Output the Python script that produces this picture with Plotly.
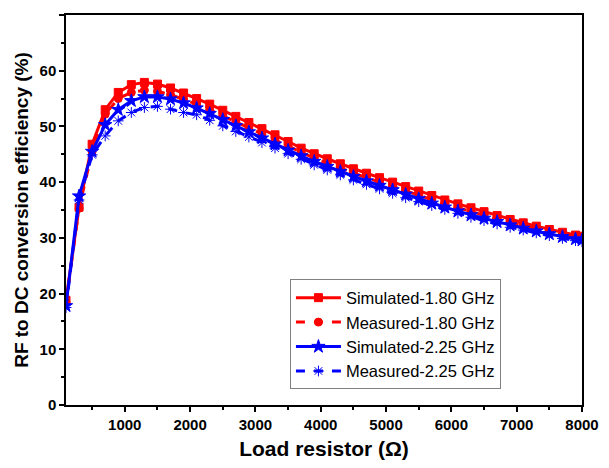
import plotly.graph_objects as go

load_ohm = [100, 300, 500, 700, 900, 1100, 1300, 1500, 1700, 1900, 2100, 2300, 2500, 2700,
            2900, 3100, 3300, 3500, 3700, 3900, 4100, 4300, 4500, 4700, 4900, 5100, 5300,
            5500, 5700, 5900, 6100, 6300, 6500, 6700, 6900, 7100, 7300, 7500, 7700, 7900, 8000]

sim_180 = [18.8, 35.5, 46.8, 53.0, 56.1, 57.5, 57.9, 57.6, 56.9, 56.0, 55.0, 54.0, 52.9, 51.8,
           50.7, 49.6, 48.5, 47.3, 46.1, 45.1, 44.2, 43.3, 42.4, 41.6, 40.8, 40.0, 39.2,
           38.4, 37.6, 36.8, 36.1, 35.4, 34.7, 34.0, 33.3, 32.7, 32.1, 31.5, 31.0, 30.5, 30.3]

meas_180 = [18.5, 35.3, 45.5, 52.2, 55.0, 56.1, 56.5, 56.3, 55.7, 54.9, 54.0, 53.0, 51.9, 50.8,
            49.7, 48.6, 47.5, 46.4, 45.3, 44.3, 43.4, 42.5, 41.6, 40.8, 40.0, 39.2, 38.4,
            37.6, 36.8, 36.1, 35.4, 34.7, 34.1, 33.4, 32.8, 32.2, 31.7, 31.1, 30.6, 30.2, 30.0]

sim_225 = [17.8, 37.5, 45.5, 50.3, 53.0, 54.6, 55.3, 55.3, 54.9, 54.2, 53.3, 52.3, 51.2, 50.1,
           49.0, 47.9, 46.8, 45.7, 44.7, 43.7, 42.8, 41.9, 41.0, 40.2, 39.4, 38.6, 37.8,
           37.0, 36.2, 35.5, 34.8, 34.1, 33.5, 32.9, 32.3, 31.7, 31.2, 30.7, 30.2, 29.8, 29.6]

meas_225 = [17.5, 36.8, 44.9, 48.3, 51.0, 52.5, 53.4, 53.6, 53.1, 52.5, 52.1, 51.1, 50.1, 49.1,
            48.1, 47.1, 46.1, 45.1, 44.1, 43.1, 42.2, 41.3, 40.4, 39.6, 38.8, 38.0, 37.2,
            36.5, 35.8, 35.1, 34.4, 33.7, 33.1, 32.5, 31.9, 31.4, 30.9, 30.4, 29.9, 29.5, 29.3]

x_ticks = [1000, 2000, 3000, 4000, 5000, 6000, 7000, 8000]
y_ticks = [0, 10, 20, 30, 40, 50, 60, 70]

RED = "#FF0000"
BLUE = "#0000FF"

series = [
    ("Simulated-1.80 GHz", sim_180, RED, "solid", "square", 8),
    ("Measured-1.80 GHz", meas_180, RED, "dash", "circle", 8),
    ("Simulated-2.25 GHz", sim_225, BLUE, "solid", "star", 10),
    ("Measured-2.25 GHz", meas_225, BLUE, "dash", "asterisk-open", 9),
]

FONT = "Liberation Sans, Arial"

fig = go.Figure()
for name, vals, color, dash, sym, size in series:
    fig.add_trace(go.Scatter(
        x=load_ohm, y=vals, name=name, mode="lines+markers",
        line=dict(color=color, width=3, dash=dash),
        marker=dict(symbol=sym, size=size, color=color,
                    line=dict(color=color, width=1)),
    ))

axis_common = dict(
    showline=True, linecolor="black", linewidth=1.5, mirror=True,
    ticks="outside", ticklen=5, tickwidth=1.5, tickcolor="black",
    showgrid=False, zeroline=False, automargin=False,
    tickfont=dict(family=FONT, size=15, color="black", weight="bold"),
)

fig.update_xaxes(
    range=[100, 8000], tickvals=x_ticks,
    minor=dict(ticks="outside", ticklen=3, tickwidth=1.5, tickcolor="black", dtick=500, tick0=0),
    title=dict(text="Load resistor (Ω)", font=dict(family=FONT, size=21,
               color="black", weight="bold"), standoff=12),
    **axis_common,
)
fig.update_yaxes(
    range=[0, 70], tickvals=y_ticks,
    minor=dict(ticks="outside", ticklen=3, tickwidth=1.5, tickcolor="black", dtick=5, tick0=0),
    title=dict(text="RF to DC conversion efficiency (%)", font=dict(family=FONT,
               size=19, color="black", weight="bold"), standoff=6),
    **axis_common,
)

fig.update_layout(
    width=593, height=452,
    margin=dict(l=58, r=19, t=7, b=55),
    plot_bgcolor="white", paper_bgcolor="white",
    legend=dict(
        x=0.434, y=0.322, xanchor="left", yanchor="top",
        bgcolor="white", bordercolor="#808080", borderwidth=1,
        font=dict(family=FONT, size=16.5, color="black"),
        itemwidth=45, tracegroupgap=0,
    ),
)

fig.write_html("out.html")
